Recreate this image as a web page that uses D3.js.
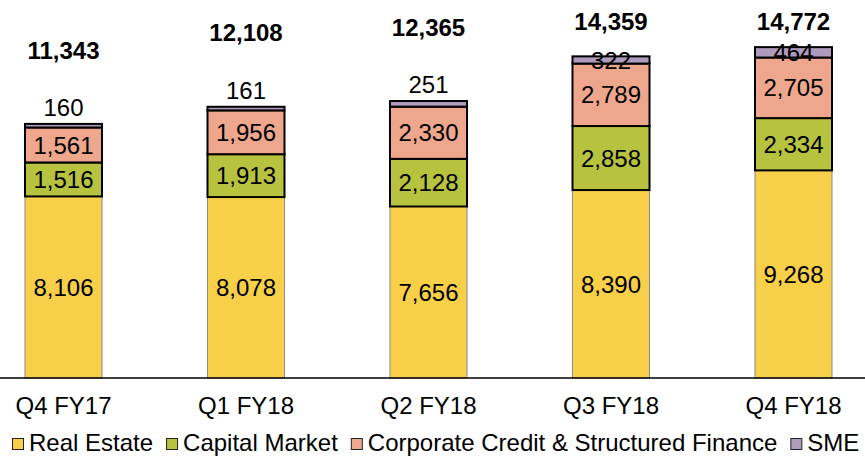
<!DOCTYPE html>
<html>
<head>
<meta charset="utf-8">
<script src="https://cdn.jsdelivr.net/npm/d3@7"></script>
<style>
  html, body { margin: 0; padding: 0; background: #fff; }
  svg { display: block; font-family: "Liberation Sans", Arial, sans-serif; }
</style>
</head>
<body>
<svg id="chart" width="865" height="456"></svg>
<script>
const categories = ["Q4 FY17", "Q1 FY18", "Q2 FY18", "Q3 FY18", "Q4 FY18"];
const seriesNames = ["Real Estate", "Capital Market", "Corporate Credit & Structured Finance", "SME"];
const realEstate = [8106, 8078, 7656, 8390, 9268];
const capitalMarket = [1516, 1913, 2128, 2858, 2334];
const corporateCredit = [1561, 1956, 2330, 2789, 2705];
const sme = [160, 161, 251, 322, 464];
const totals = [11343, 12108, 12365, 14359, 14772];
const colors = ["#F8CF48", "#B7C33F", "#EEA68D", "#AF9BBC"];

const seriesValues = [realEstate, capitalMarket, corporateCredit, sme];
const rows = categories.map((c, i) => {
  const r = { category: c, total: totals[i] };
  seriesNames.forEach((s, j) => r[s] = seriesValues[j][i]);
  return r;
});

const svg = d3.select("#chart");
const W = 865, baseY = 378;
const fs = 24;
const fmt = d3.format(",");

const x = d3.scaleBand().domain(categories).range([-27.75, 884.75])
  .paddingInner(0.578).paddingOuter(0.289);
const y = d3.scaleLinear().domain([0, 15000]).range([baseY, 42]);

const stack = d3.stack().keys(seriesNames)(rows);

const g = svg.append("g");
stack.forEach((layer, li) => {
  const lg = g.append("g");
  lg.selectAll("rect").data(layer).join("rect")
    .attr("x", d => x(d.data.category))
    .attr("width", x.bandwidth())
    .attr("y", d => y(d[1]))
    .attr("height", d => y(d[0]) - y(d[1]))
    .attr("fill", colors[li])
    .attr("stroke", li === 0 ? "#8a8a8a" : "#000")
    .attr("stroke-width", li === 0 ? 1 : 2);
});

// segment labels
stack.forEach((layer, li) => {
  g.append("g").selectAll("text").data(layer).join("text")
    .attr("x", d => x(d.data.category) + x.bandwidth() / 2)
    .attr("y", d => {
      const h = y(d[0]) - y(d[1]);
      if (h < 6.5) return y(d[1]) - 8;
      return (y(d[0]) + y(d[1])) / 2 + fs * 0.358;
    })
    .attr("text-anchor", "middle")
    .attr("font-size", fs)
    .attr("fill", "#000")
    .text(d => fmt(d.data[layer.key]));
});

// totals
g.append("g").selectAll("text").data(rows).join("text")
  .attr("x", d => x(d.category) + x.bandwidth() / 2)
  .attr("y", d => Math.max(y(d.total) - 74, 21) + fs * 0.358)
  .attr("text-anchor", "middle")
  .attr("font-size", fs)
  .attr("font-weight", "bold")
  .text(d => fmt(d.total));

// axis
const axis = d3.axisBottom(x).tickSize(0).tickPadding(0);
const ag = svg.append("g").attr("transform", `translate(0,${baseY})`).call(axis);
ag.select(".domain").remove();
ag.selectAll("text").attr("font-size", fs).attr("fill", "#000")
  .attr("font-family", "Liberation Sans, Arial, sans-serif")
  .attr("dy", null).attr("y", 36);
svg.append("line").attr("x1", 0).attr("x2", W).attr("y1", baseY).attr("y2", baseY)
  .attr("stroke", "#000").attr("stroke-width", 1.5);

// legend
const leg = svg.append("g");
let lx = 12;
seriesNames.forEach((s, i) => {
  leg.append("rect").attr("x", lx + 0.5).attr("y", 438.5).attr("width", 11).attr("height", 11)
    .attr("fill", colors[i]).attr("stroke", "#222").attr("stroke-width", 1);
  const t = leg.append("text").attr("x", lx + 17).attr("y", 451)
    .attr("font-size", fs).attr("fill", "#000").text(s);
  lx = lx + 17 + t.node().getComputedTextLength() + 13;
});
</script>
</body>
</html>
